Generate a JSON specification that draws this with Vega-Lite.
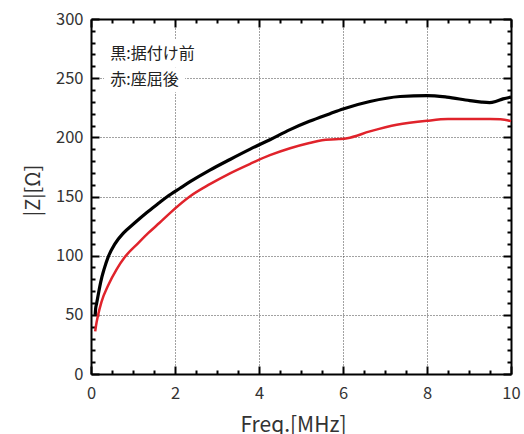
{
  "$schema": "https://vega.github.io/schema/vega-lite/v6.json",
  "width": 420,
  "height": 355,
  "autosize": "none",
  "padding": {"left": 91, "top": 19, "right": 13, "bottom": 60},
  "background": "white",
  "config": {
    "view": {"stroke": null},
    "font": "Noto Sans CJK JP",
    "axis": {
      "domainColor": "#000",
      "domainWidth": 2,
      "tickColor": "#000",
      "tickWidth": 2,
      "labelFont": "Noto Sans CJK JP",
      "labelFontSize": 16.5,
      "labelColor": "#333",
      "titleFont": "Noto Sans CJK JP",
      "titleFontWeight": "normal",
      "titleColor": "#333",
      "gridColor": "#444",
      "gridDash": [1, 2],
      "gridWidth": 1
    }
  },
  "datasets": {
    "curves": [
      {"f": 0.1, "z": 50, "s": "black"},
      {"f": 0.11, "z": 55, "s": "black"},
      {"f": 0.13, "z": 59, "s": "black"},
      {"f": 0.17, "z": 66.5, "s": "black"},
      {"f": 0.21, "z": 74, "s": "black"},
      {"f": 0.26, "z": 82, "s": "black"},
      {"f": 0.31, "z": 88.4, "s": "black"},
      {"f": 0.41, "z": 99, "s": "black"},
      {"f": 0.57, "z": 110, "s": "black"},
      {"f": 0.77, "z": 119, "s": "black"},
      {"f": 1.05, "z": 128, "s": "black"},
      {"f": 1.33, "z": 136.5, "s": "black"},
      {"f": 1.6, "z": 144, "s": "black"},
      {"f": 1.82, "z": 150, "s": "black"},
      {"f": 2.12, "z": 157, "s": "black"},
      {"f": 2.36, "z": 162.5, "s": "black"},
      {"f": 2.83, "z": 172.3, "s": "black"},
      {"f": 3.31, "z": 181.3, "s": "black"},
      {"f": 3.79, "z": 190, "s": "black"},
      {"f": 4.26, "z": 198, "s": "black"},
      {"f": 4.74, "z": 206.5, "s": "black"},
      {"f": 5.2, "z": 213.5, "s": "black"},
      {"f": 5.69, "z": 220, "s": "black"},
      {"f": 6.0, "z": 224, "s": "black"},
      {"f": 6.64, "z": 230.3, "s": "black"},
      {"f": 7.36, "z": 234.5, "s": "black"},
      {"f": 8.0, "z": 235.3, "s": "black"},
      {"f": 8.47, "z": 234, "s": "black"},
      {"f": 9.02, "z": 231, "s": "black"},
      {"f": 9.3, "z": 229.8, "s": "black"},
      {"f": 9.49, "z": 229.4, "s": "black"},
      {"f": 9.65, "z": 230.5, "s": "black"},
      {"f": 9.81, "z": 232.5, "s": "black"},
      {"f": 10.0, "z": 234, "s": "black"},
      {"f": 0.1, "z": 36, "s": "red"},
      {"f": 0.12, "z": 41, "s": "red"},
      {"f": 0.17, "z": 50, "s": "red"},
      {"f": 0.25, "z": 61, "s": "red"},
      {"f": 0.41, "z": 75, "s": "red"},
      {"f": 0.61, "z": 88.4, "s": "red"},
      {"f": 0.81, "z": 99, "s": "red"},
      {"f": 1.13, "z": 110.8, "s": "red"},
      {"f": 1.36, "z": 119, "s": "red"},
      {"f": 1.64, "z": 128, "s": "red"},
      {"f": 1.88, "z": 136, "s": "red"},
      {"f": 2.36, "z": 150.2, "s": "red"},
      {"f": 2.83, "z": 160.4, "s": "red"},
      {"f": 3.31, "z": 169.6, "s": "red"},
      {"f": 3.79, "z": 177.6, "s": "red"},
      {"f": 4.26, "z": 184.9, "s": "red"},
      {"f": 4.74, "z": 190.8, "s": "red"},
      {"f": 5.2, "z": 195.2, "s": "red"},
      {"f": 5.5, "z": 197.6, "s": "red"},
      {"f": 5.9, "z": 198.5, "s": "red"},
      {"f": 6.1, "z": 199.3, "s": "red"},
      {"f": 6.64, "z": 205, "s": "red"},
      {"f": 7.28, "z": 210.6, "s": "red"},
      {"f": 8.0, "z": 214, "s": "red"},
      {"f": 8.5, "z": 215.4, "s": "red"},
      {"f": 9.0, "z": 215.5, "s": "red"},
      {"f": 9.5, "z": 215.5, "s": "red"},
      {"f": 9.75, "z": 215.3, "s": "red"},
      {"f": 10.0, "z": 213.7, "s": "red"}
    ],
    "boxes": [
      {"a": 0.31, "b": 2.55, "lo": 259, "hi": 283},
      {"a": 0.31, "b": 2.24, "lo": 238, "hi": 259}
    ],
    "notes": [
      {"f": 0.46, "z": 270.3, "t": "黒:据付け前"},
      {"f": 0.46, "z": 248.3, "t": "赤:座屈後"}
    ]
  },
  "layer": [
    {
      "data": {"name": "curves"},
      "mark": {"type": "line", "interpolate": "monotone"},
      "encoding": {
        "x": {
          "field": "f", "type": "quantitative",
          "scale": {"domain": [0, 10], "nice": false, "zero": false},
          "axis": {
            "orient": "bottom",
            "values": [0,0.5,1,1.5,2,2.5,3,3.5,4,4.5,5,5.5,6,6.5,7,7.5,8,8.5,9,9.5,10],
            "format": "~r",
            "labelExpr": "datum.value % 2 === 0 ? datum.label : ''",
            "labelFlush": false,
            "labelOverlap": false,
            "labelBound": false,
            "tickSize": {"condition": {"test": "datum.value % 2 === 0", "value": -8}, "value": -4},
            "labelPadding": 19,
            "grid": true,
            "gridOpacity": {"condition": {"test": "datum.value % 2 === 0 && datum.value > 0 && datum.value < 10", "value": 1}, "value": 0},
            "title": "Freq.[MHz]",
            "titleFontSize": 21,
            "titleX": 202,
            "titleY": 40,
            "titleBaseline": "top",
            "titleAnchor": null
          }
        },
        "y": {
          "field": "z", "type": "quantitative",
          "scale": {"domain": [0, 300], "nice": false},
          "axis": {
            "orient": "left",
            "values": [0,10,20,30,40,50,60,70,80,90,100,110,120,130,140,150,160,170,180,190,200,210,220,230,240,250,260,270,280,290,300],
            "labelExpr": "datum.value % 50 === 0 ? datum.label : ''",
            "labelFlush": false,
            "labelOverlap": false,
            "labelBound": false,
            "tickSize": {"condition": {"test": "datum.value % 50 === 0", "value": -8}, "value": -4},
            "labelPadding": 16,
            "grid": true,
            "gridOpacity": {"condition": {"test": "datum.value % 50 === 0 && datum.value > 0 && datum.value < 300", "value": 1}, "value": 0},
            "title": "|Z|[Ω]",
            "titleFontSize": 20,
            "titleX": -58,
            "titleY": 171,
            "titleBaseline": "middle",
            "titleAlign": "center",
            "titleAngle": -90
          }
        },
        "color": {"field": "s", "type": "nominal", "scale": {"domain": ["black", "red"], "range": ["#000000", "#e0232b"]}, "legend": null},
        "strokeWidth": {"field": "s", "type": "nominal", "scale": {"domain": ["black", "red"], "range": [3.2, 2.5]}, "legend": null}
      }
    },
    {
      "data": {"name": "boxes"},
      "mark": {"type": "rect", "color": "white"},
      "encoding": {
        "x": {"field": "a", "type": "quantitative", "axis": null},
        "x2": {"field": "b"},
        "y": {"field": "lo", "type": "quantitative", "axis": null},
        "y2": {"field": "hi"}
      }
    },
    {
      "data": {"name": "notes"},
      "mark": {"type": "text", "align": "left", "baseline": "middle", "fontSize": 16, "color": "#222", "font": "Noto Sans CJK JP"},
      "encoding": {
        "x": {
          "field": "f", "type": "quantitative",
          "axis": {
            "orient": "top",
            "values": [0,0.5,1,1.5,2,2.5,3,3.5,4,4.5,5,5.5,6,6.5,7,7.5,8,8.5,9,9.5,10],
            "labels": false,
            "grid": false,
            "title": null,
            "tickSize": {"condition": {"test": "datum.value % 2 === 0", "value": -8}, "value": -4}
          }
        },
        "y": {
          "field": "z", "type": "quantitative",
          "axis": {
            "orient": "right",
            "values": [0,10,20,30,40,50,60,70,80,90,100,110,120,130,140,150,160,170,180,190,200,210,220,230,240,250,260,270,280,290,300],
            "labels": false,
            "grid": false,
            "title": null,
            "tickSize": {"condition": {"test": "datum.value % 50 === 0", "value": -8}, "value": -4}
          }
        },
        "text": {"field": "t", "type": "nominal"}
      }
    }
  ],
  "resolve": {"axis": {"x": "independent", "y": "independent"}}
}
